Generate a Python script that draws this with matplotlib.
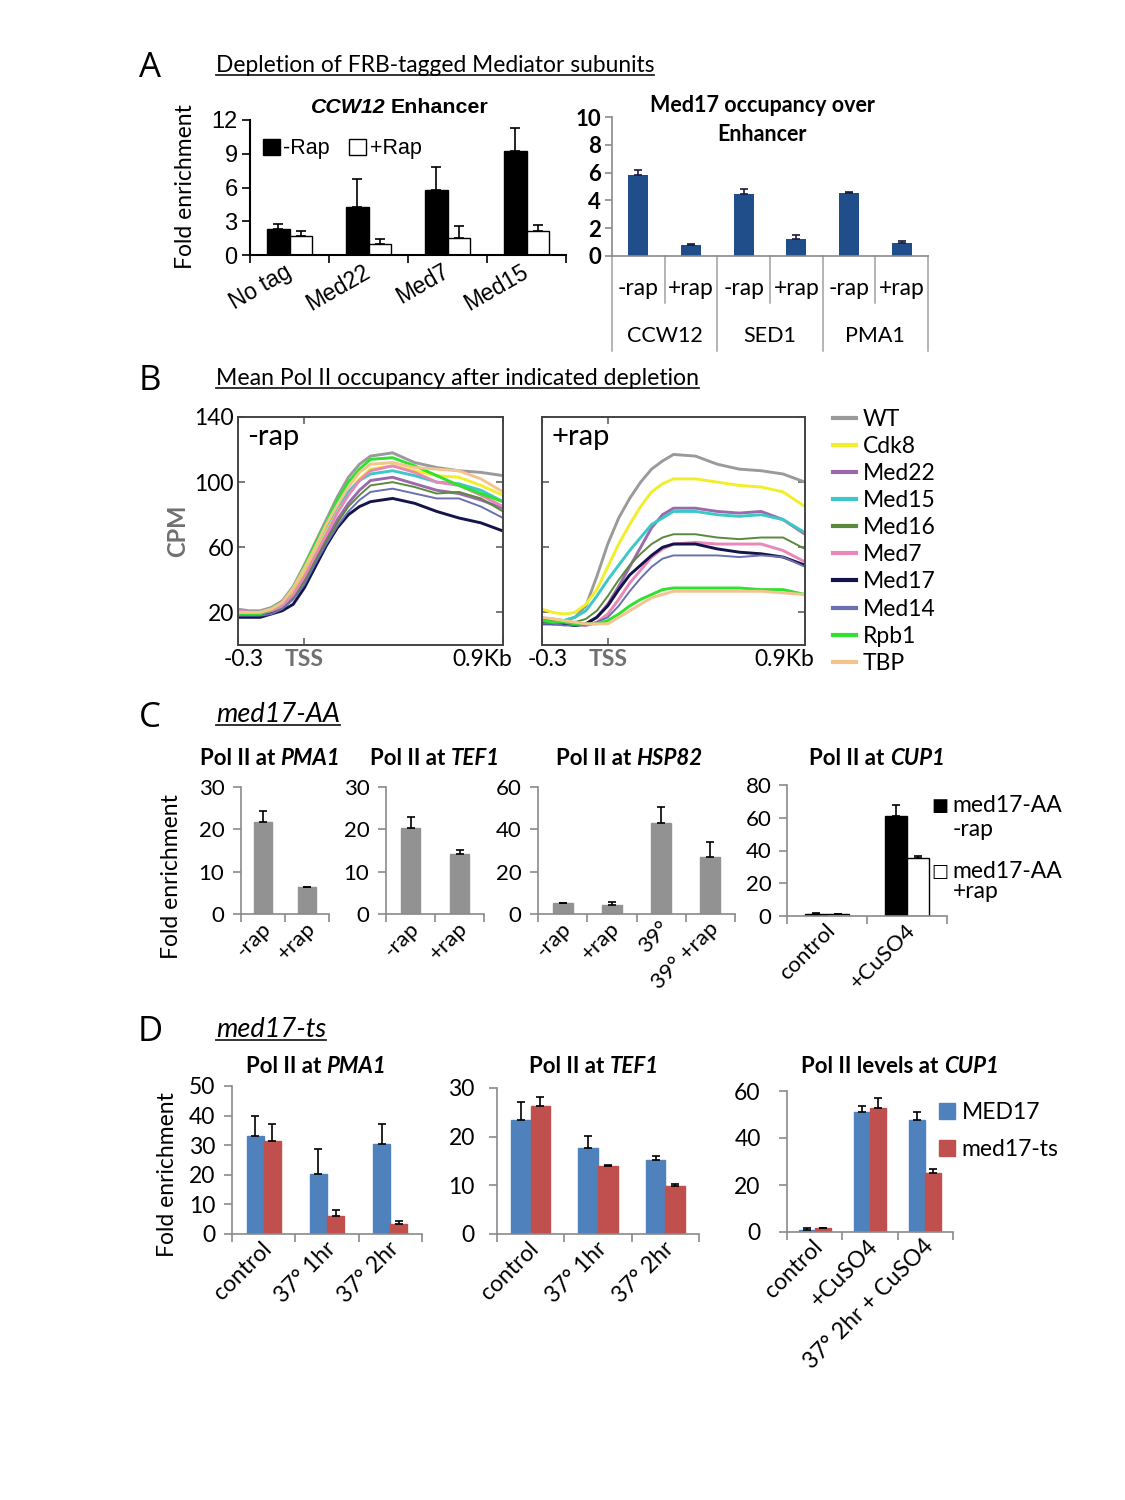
import numpy as np
import matplotlib
matplotlib.use("Agg")
import matplotlib.pyplot as plt
import matplotlib.transforms as mtrans
from matplotlib.patches import Patch
from matplotlib.lines import Line2D

plt.rcParams['font.family'] = ['Lato', 'DejaVu Sans']

# ---------------- data ----------------
# A, left: CCW12 enhancer
a_groups = ['No tag', 'Med22', 'Med7', 'Med15']
a_minus = [2.3, 4.3, 5.75, 9.25]
a_minus_err = [0.5, 2.5, 2.05, 2.05]
a_plus = [1.7, 0.95, 1.55, 2.1]
a_plus_err = [0.4, 0.45, 1.05, 0.55]

# A, right: Med17 occupancy
m17_cond = ['-rap', '+rap', '-rap', '+rap', '-rap', '+rap']
m17_genes = ['CCW12', 'SED1', 'PMA1']
m17_vals = [5.85, 0.8, 4.45, 1.2, 4.55, 0.9]
m17_err = [0.35, 0.05, 0.35, 0.3, 0.07, 0.15]

# B: metagene profiles (kb from TSS)
b_x = [-0.3, -0.25, -0.2, -0.15, -0.1, -0.05, 0, 0.05, 0.1, 0.15, 0.2, 0.25, 0.3, 0.4, 0.5, 0.6, 0.7, 0.8, 0.9]
b_names = ['WT', 'Cdk8', 'Med22', 'Med15', 'Med16', 'Med7', 'Med17', 'Med14', 'Rpb1', 'TBP']
b_colors = ['#9a9a9a', '#f2ee2a', '#9b6aad', '#3cc8c8', '#5b8a3c', '#e887b8', '#14144a', '#6a70b0', '#2ee22e', '#f4c48e']

wt_m = [22, 21, 21, 23, 27, 36, 49, 63, 77, 91, 103, 111, 116, 118, 112, 109, 107, 106, 104]
cdk8_m = [20, 20, 20, 22, 25, 33, 44, 57, 70, 83, 94, 102, 108, 110, 107, 104, 103, 98, 92]
med22_m = [19, 19, 19, 20, 23, 30, 40, 52, 65, 77, 87, 95, 101, 103, 99, 95, 93, 89, 84]
med15_m = [19, 19, 19, 22, 26, 35, 47, 60, 73, 85, 94, 101, 105, 107, 104, 100, 99, 95, 88]
med16_m = [19, 18, 18, 20, 23, 29, 39, 52, 64, 75, 85, 92, 98, 100, 97, 93, 94, 90, 82]
med7_m = [21, 20, 20, 21, 24, 31, 42, 55, 68, 81, 92, 101, 107, 110, 106, 100, 98, 92, 85]
med17_m = [17, 17, 17, 19, 21, 25, 35, 48, 61, 72, 80, 85, 88, 90, 87, 82, 78, 75, 70]
med14_m = [18, 18, 18, 19, 22, 28, 37, 50, 62, 73, 82, 89, 94, 96, 93, 90, 90, 85, 78]
rpb1_m = [19, 19, 19, 22, 26, 35, 48, 62, 75, 89, 100, 108, 114, 115, 110, 104, 98, 93, 88]
tbp_m = [20, 20, 20, 22, 26, 35, 47, 60, 74, 86, 97, 106, 111, 112, 109, 108, 107, 102, 94]

wt_p = [15, 15, 15, 17, 24, 42, 62, 78, 90, 100, 108, 113, 117, 116, 111, 108, 107, 105, 100]
cdk8_p = [22, 20, 19, 20, 25, 34, 48, 62, 74, 85, 94, 99, 102, 102, 100, 98, 97, 94, 85]
med22_p = [14, 13, 13, 12, 13, 17, 25, 36, 48, 60, 72, 80, 84, 84, 82, 81, 82, 77, 68]
med15_p = [16, 16, 15, 17, 21, 30, 40, 49, 58, 66, 74, 78, 82, 82, 80, 79, 80, 77, 69]
med16_p = [16, 15, 15, 14, 16, 21, 30, 40, 49, 56, 62, 66, 68, 68, 66, 65, 66, 66, 59]
med7_p = [14, 13, 13, 13, 12, 14, 19, 28, 38, 46, 54, 59, 62, 63, 62, 62, 62, 58, 51]
med17_p = [13, 13, 13, 12, 13, 17, 24, 34, 43, 49, 55, 60, 62, 62, 59, 57, 56, 54, 49]
med14_p = [13, 13, 12, 12, 12, 14, 17, 24, 33, 41, 48, 53, 55, 55, 55, 54, 55, 54, 48]
rpb1_p = [15, 14, 14, 13, 13, 13, 15, 19, 24, 28, 31, 34, 35, 35, 35, 35, 34, 34, 31]
tbp_p = [17, 16, 15, 14, 13, 13, 13, 17, 21, 25, 29, 31, 33, 33, 33, 33, 33, 32, 31]

# C: med17-AA
c_cats2 = ['-rap', '+rap']
c_pma1 = [21.8, 6.3]
c_pma1_err = [2.6, 0.1]
c_tef1 = [20.3, 14.2]
c_tef1_err = [2.7, 0.8]
c_hsp_cats = ['-rap', '+rap', '39°', '39° +rap']
c_hsp82 = [5.0, 4.3, 43.0, 27.0]
c_hsp82_err = [0.2, 1.2, 7.5, 7.0]
c_cup_cats = ['control', '+CuSO4']
c_cup_minus = [1.3, 61.0]
c_cup_minus_err = [0.8, 6.5]
c_cup_plus = [1.0, 35.5]
c_cup_plus_err = [0.2, 1.0]

# D: med17-ts
d_cats = ['control', '37° 1hr', '37° 2hr']
d_pma1_wt = [33.0, 20.3, 30.3]
d_pma1_wt_err = [7.0, 8.4, 7.0]
d_pma1_ts = [31.5, 6.0, 3.5]
d_pma1_ts_err = [5.7, 2.2, 0.8]
d_tef1_wt = [23.5, 17.6, 15.2]
d_tef1_wt_err = [3.6, 2.6, 0.9]
d_tef1_ts = [26.2, 14.0, 9.8]
d_tef1_ts_err = [1.9, 0.1, 0.5]
d_cup_cats = ['control', '+CuSO4', '37° 2hr + CuSO4']
d_cup_wt = [1.0, 51.0, 47.5]
d_cup_wt_err = [0.8, 2.7, 3.5]
d_cup_ts = [1.5, 52.8, 25.0]
d_cup_ts_err = [0.4, 4.2, 1.8]

# ---------------- helpers ----------------
W, H = 1125, 1500
fig = plt.figure(figsize=(W / 100, H / 100), dpi=100)
renderer = fig.canvas.get_renderer()


def box(l, t, r, b):
    return fig.add_axes([l / W, 1 - b / H, (r - l) / W, (b - t) / H])


def ftext(x, y, s, **kw):
    return fig.text(x / W, 1 - y / H, s, **kw)


def underlined(x, y, s, **kw):
    t = ftext(x, y, s, va='baseline', ha='left', **kw)
    bb = t.get_window_extent(renderer)
    fig.add_artist(Line2D([bb.x0 / W, bb.x1 / W], [1 - (y + 3) / H] * 2, color='#222222', lw=1.3))


def rich(xc, y, parts, size, family='Lato', gap=5):
    objs = [ftext(0, y, s, fontsize=size, family=family, fontweight='bold',
                  fontstyle=st, va='baseline') for s, st in parts]
    ws = [o.get_window_extent(renderer).width for o in objs]
    x = xc - (sum(ws) + gap * (len(ws) - 1)) / 2
    for o, w in zip(objs, ws):
        o.set_x(x / W)
        x += w + gap


def excel_axes(ax, color='#8a8a8a', size=15, pad=6, length=6):
    for s in ['top', 'right']:
        ax.spines[s].set_visible(False)
    for s in ['left', 'bottom']:
        ax.spines[s].set_color(color)
        ax.spines[s].set_linewidth(1.2)
    ax.tick_params(axis='both', which='both', color=color, width=1.2)
    ax.tick_params(axis='y', direction='out', length=length, labelsize=size, pad=pad)


def cat_x(ax, cats, rot=45, size=15, dx=5, pad=8, family='Lato'):
    n = len(cats)
    ax.set_xlim(-0.5, n - 0.5)
    ax.set_xticks(np.arange(n + 1) - 0.5)
    ax.set_xticklabels([])
    ax.tick_params(axis='x', which='major', direction='out', length=6)
    ax.set_xticks(np.arange(n), minor=True)
    ax.set_xticklabels(cats, minor=True, rotation=rot, ha='right', va='center',
                       rotation_mode='anchor', fontsize=size, family=family)
    ax.tick_params(axis='x', which='minor', length=0, pad=pad)
    off = mtrans.ScaledTranslation(dx / 100, 0, fig.dpi_scale_trans)
    for lab in ax.get_xticklabels(minor=True):
        lab.set_transform(lab.get_transform() + off)


def grouped(ax, series, errs, colors, edges, width, cap=3):
    n = len(series)
    x = np.arange(len(series[0]))
    for k, (vals, err, c, e) in enumerate(zip(series, errs, colors, edges)):
        pos = x + (k - (n - 1) / 2) * width
        ax.bar(pos, vals, width, color=c, edgecolor=e, lw=1.0, zorder=2)
        ax.errorbar(pos, vals, yerr=[np.zeros(len(vals)), err], fmt='none', ecolor='black',
                    elinewidth=1.2, capsize=cap, capthick=1.2, zorder=3)


# ---------------- panel letters & headings ----------------
for letter, y in [('A', 68), ('B', 381), ('C', 718), ('D', 1032)]:
    ftext(150, y, letter, fontsize=25, ha='center', va='center', family='Open Sans')

underlined(216, 72, 'Depletion of FRB-tagged Mediator subunits', fontsize=16.4)
underlined(216, 385, 'Mean Pol II occupancy after indicated depletion', fontsize=16.6)
underlined(216, 722, 'med17-AA', fontsize=19.5, fontstyle='italic')
underlined(216, 1037, 'med17-ts', fontsize=19.5, fontstyle='italic')

# ---------------- A left ----------------
axA = box(250, 120, 566, 255)
grouped(axA, [a_minus, a_plus], [a_minus_err, a_plus_err], ['black', 'white'], ['black', 'black'], 0.29, cap=3.5)
axA.set_ylim(0, 12)
axA.set_yticks([0, 3, 6, 9, 12])
excel_axes(axA, color='black', size=17, pad=3, length=6)
for s in ['left', 'bottom']:
    axA.spines[s].set_linewidth(1.5)
for lab in axA.get_yticklabels():
    lab.set_family('Liberation Sans')
cat_x(axA, a_groups, rot=30, size=16.5, dx=0, pad=11, family='Liberation Sans')
axA.legend(handles=[Patch(facecolor='black', edgecolor='black'), Patch(facecolor='white', edgecolor='black')],
           labels=['-Rap', '+Rap'], ncol=2, loc='upper left', bbox_to_anchor=(0.04, 0.865), frameon=False,
           handlelength=0.8, handleheight=0.8, handletextpad=0.15, columnspacing=0.9,
           borderpad=0, borderaxespad=0, prop={'family': 'Liberation Sans', 'size': 15.5})
rich(400, 113, [('CCW12', 'italic'), ('Enhancer', 'normal')], 15.4, family='Liberation Sans')
ftext(186, 187, 'Fold enrichment', rotation=90, ha='center', va='center', fontsize=16.5)

# ---------------- A right ----------------
axM = box(612, 117, 928, 256)
xm = np.arange(len(m17_vals))
axM.bar(xm, m17_vals, 0.38, color='#1f4e8a', zorder=2)
axM.errorbar(xm, m17_vals, yerr=[np.zeros(len(m17_vals)), m17_err], fmt='none', ecolor='#1a1a40',
             elinewidth=1.2, capsize=3, capthick=1.2, zorder=3)
axM.set_ylim(0, 10)
axM.set_yticks(range(0, 11, 2))
axM.set_xlim(-0.5, len(m17_vals) - 0.5)
excel_axes(axM, size=16, pad=3, length=5)
axM.set_xticks([])
for lab in axM.get_yticklabels():
    lab.set_fontweight('bold')
tr = axM.get_xaxis_transform()
for i in range(len(m17_vals) + 1):
    ybot = -0.68 if i % 2 == 0 else -0.34
    axM.plot([i - 0.5, i - 0.5], [0, ybot], transform=tr, color='#a0a0a0', lw=1.1, clip_on=False)
for i, c in enumerate(m17_cond):
    axM.text(i, -0.235, c, transform=tr, ha='center', va='center', fontsize=16.5)
for g, gene in enumerate(m17_genes):
    axM.text(2 * g + 0.5, -0.575, gene, transform=tr, ha='center', va='center', fontsize=15.5)
ftext(762, 120, 'Med17 occupancy over\nEnhancer', ha='center', va='center', fontsize=15.5,
      fontweight='bold', linespacing=1.45)

# ---------------- B ----------------
minus_series = [wt_m, cdk8_m, med22_m, med15_m, med16_m, med7_m, med17_m, med14_m, rpb1_m, tbp_m]
plus_series = [wt_p, cdk8_p, med22_p, med15_p, med16_p, med7_p, med17_p, med14_p, rpb1_p, tbp_p]
axL = box(238, 417, 503, 645)
axR = box(542, 417, 805, 645)
for ax, series, tag in [(axL, minus_series, '-rap'), (axR, plus_series, '+rap')]:
    for name, ys, col in zip(b_names, series, b_colors):
        lw = 1.4 if name in ('Med16', 'Med14') else 2.1
        ax.plot(b_x, ys, color=col, lw=lw, label=name)
    ax.set_xlim(-0.3, 0.9)
    ax.set_ylim(0, 140)
    ax.set_yticks([20, 60, 100, 140])
    ax.set_xticks([-0.3, 0, 0.9])
    ax.set_xticklabels(['-0.3', 'TSS', '0.9Kb'], fontsize=16.5)
    ax.tick_params(axis='both', direction='in', length=5, width=1.1, color='#555555',
                   left=True, right=True, top=True, bottom=True, labelsize=16.5, pad=3)
    for s in ax.spines.values():
        s.set_color('#444444')
        s.set_linewidth(1.4)
    labs = ax.get_xticklabels()
    labs[1].set_fontweight('bold')
    labs[1].set_color('#707070')
    labs[2].set_ha('right')
    for lab, dx in [(labs[0], 6), (labs[2], 9)]:
        lab.set_transform(lab.get_transform() + mtrans.ScaledTranslation(dx / 100, 0, fig.dpi_scale_trans))
    ax.text(0.035, 0.97, tag, transform=ax.transAxes, ha='left', va='top', fontsize=21)
axR.set_yticklabels([])
ftext(178, 531, 'CPM', rotation=90, ha='center', va='center', fontsize=17, fontweight='bold', color='#707070')
axR.legend(loc='upper left', bbox_to_anchor=(1.106, 1.035), frameon=False, fontsize=16.5,
           handlelength=1.0, handletextpad=0.3, labelspacing=0.265, borderpad=0, borderaxespad=0)
for line in axR.get_legend().get_lines():
    line.set_linewidth(3)

# ---------------- C ----------------
gray = '#929292'
c_panels = [
    (241, 329, 0.43, 30, 10, c_cats2, c_pma1, c_pma1_err, 270, 'PMA1'),
    (386, 484, 0.40, 30, 10, c_cats2, c_tef1, c_tef1_err, 435, 'TEF1'),
    (538, 735, 0.41, 60, 20, c_hsp_cats, c_hsp82, c_hsp82_err, 629, 'HSP82'),
]
for l, r, wd, ymax, step, cats, vals, err, tx, gene in c_panels:
    ax = box(l, 787, r, 914)
    grouped(ax, [vals], [err], [gray], [gray], wd)
    ax.set_ylim(0, ymax)
    ax.set_yticks(range(0, ymax + 1, step))
    excel_axes(ax, size=16, pad=6, length=6)
    cat_x(ax, cats, size=16)
    rich(tx, 765, [('Pol II at', 'normal'), (gene, 'italic')], 16)

axC = box(787, 785, 947, 916)
grouped(axC, [c_cup_minus, c_cup_plus], [c_cup_minus_err, c_cup_plus_err], ['black', 'white'],
        ['black', 'black'], 0.28)
axC.set_ylim(0, 80)
axC.set_yticks(range(0, 81, 20))
excel_axes(axC, size=16, pad=5, length=6)
cat_x(axC, c_cup_cats, size=16)
rich(877, 765, [('Pol II at', 'normal'), ('CUP1', 'italic')], 16)
ftext(940, 806, '\u25a0', family='DejaVu Sans', fontsize=13, ha='center', va='center')
ftext(952, 806, 'med17-AA', fontsize=16.5, va='center')
ftext(953, 829, '-rap', fontsize=16.5, va='center')
ftext(940, 872, '\u25a1', family='DejaVu Sans', fontsize=13, ha='center', va='center')
ftext(952, 872, 'med17-AA', fontsize=16.5, va='center')
ftext(953, 891, '+rap', fontsize=16.5, va='center')
ftext(172, 877, 'Fold enrichment', rotation=90, ha='center', va='center', fontsize=16.5)

# ---------------- D ----------------
blue, red = '#4f81bd', '#c0504d'
d_panels = [
    (232, 1086, 422, 1234, 0.27, 50, 10, 6, d_cats, d_pma1_wt, d_pma1_wt_err, d_pma1_ts, d_pma1_ts_err, 316,
     [('Pol II at', 'normal'), ('PMA1', 'italic')]),
    (497, 1088, 699, 1234, 0.29, 30, 10, 10, d_cats, d_tef1_wt, d_tef1_wt_err, d_tef1_ts, d_tef1_ts_err, 594,
     [('Pol II at', 'normal'), ('TEF1', 'italic')]),
    (787, 1091, 953, 1232, 0.29, 60, 20, 13, d_cup_cats, d_cup_wt, d_cup_wt_err, d_cup_ts, d_cup_ts_err, 900,
     [('Pol II levels at', 'normal'), ('CUP1', 'italic')]),
]
for l, t, r, b, wd, ymax, step, pd, cats, wt, wte, ts, tse, tx, title in d_panels:
    ax = box(l, t, r, b)
    grouped(ax, [wt, ts], [wte, tse], [blue, red], [blue, red], wd)
    ax.set_ylim(0, ymax)
    ax.set_yticks(range(0, ymax + 1, step))
    excel_axes(ax, size=16.5, pad=pd, length=6)
    cat_x(ax, cats, size=16.5)
    rich(tx, 1073, title, 16)
axD = ax
axD.legend(handles=[Patch(color=blue), Patch(color=red)], labels=['MED17', 'med17-ts'],
           loc='upper left', bbox_to_anchor=(0.86, 0.99), frameon=False, fontsize=16.5,
           handlelength=0.7, handleheight=0.7, handletextpad=0.3, labelspacing=0.7, borderaxespad=0)
ftext(168, 1175, 'Fold enrichment', rotation=90, ha='center', va='center', fontsize=16.5)

fig.savefig('out.png', dpi=100)
